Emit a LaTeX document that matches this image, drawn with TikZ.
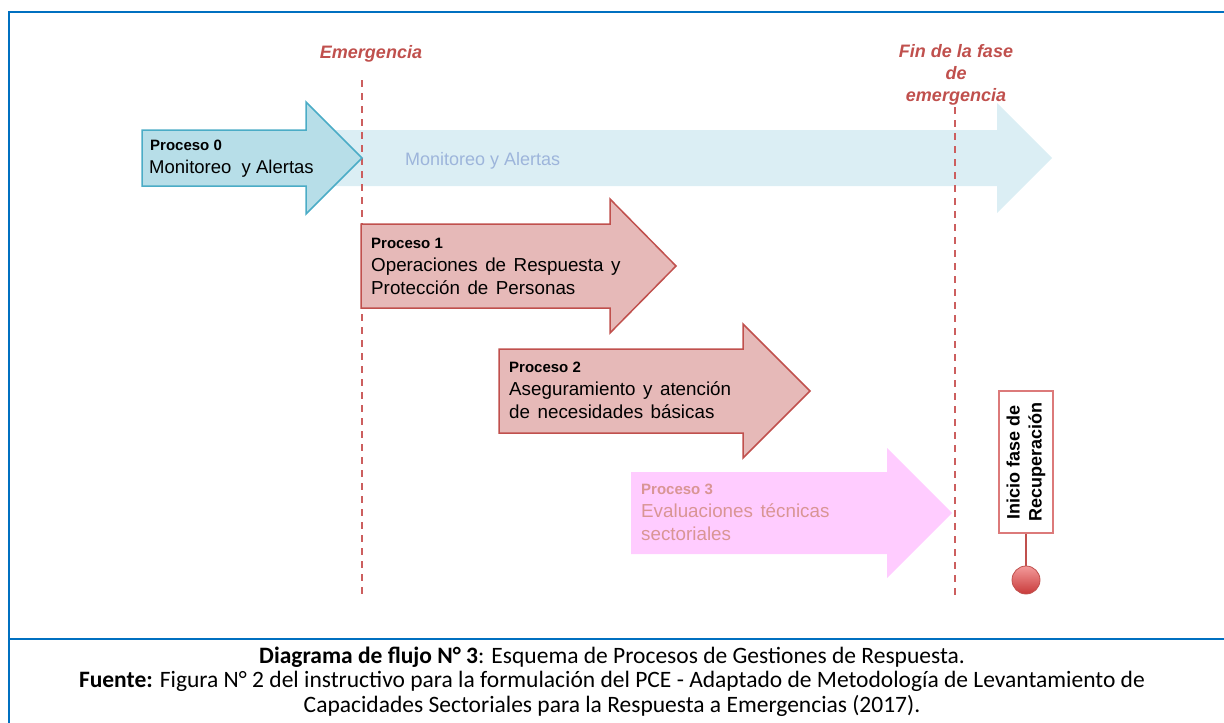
\documentclass[tikz,border=0pt]{standalone}
\usepackage{fontspec}
\setmainfont{Liberation Sans}
\newfontfamily\capfont{Carlito}
\newcommand\widespaces{\spaceskip=0.4em plus 0.1em\relax}
\definecolor{frameblue}{HTML}{0070C0}
\definecolor{redtxt}{HTML}{C0504D}
\definecolor{dashred}{HTML}{CC5E5E}
\definecolor{pzfill}{HTML}{B7DEE8}
\definecolor{pzdraw}{HTML}{4BACC6}
\definecolor{lightfill}{HTML}{DBEEF4}
\definecolor{lighttxt}{HTML}{9DB5DB}
\definecolor{pfill}{HTML}{E6B9B8}
\definecolor{pdraw}{HTML}{C0504D}
\definecolor{pinkfill}{HTML}{FFCCFF}
\definecolor{pinktxt}{HTML}{D99594}
\definecolor{boxdraw}{HTML}{DC7A7A}
\definecolor{balltop}{HTML}{F39A9A}
\definecolor{ballbot}{HTML}{C83A3A}
\begin{document}
\begin{tikzpicture}[x=1pt,y=-1pt,
  frameline/.style={draw=frameblue,line width=2},
  dashline/.style={draw=dashred,line width=1.6,dash pattern=on 7pt off 6pt},
  redlabel/.style={text=redtxt,font=\fontsize{18}{22}\selectfont\bfseries\itshape,anchor=base,inner sep=0},
  ptitle/.style={font=\fontsize{15}{18}\selectfont\bfseries,anchor=base west,inner sep=0},
  ptext/.style={font=\fontsize{18.8}{22}\selectfont\widespaces,anchor=base west,inner sep=0},
  captxt/.style={font=\capfont\fontsize{23.5}{24}\selectfont,anchor=base,inner sep=0}]
\useasboundingbox (0,0) rectangle (1224,723);
% frame
\draw[frameline] (9,723) -- (9,12) -- (1224,12);
\draw[frameline] (9,639) -- (1224,639);
% light background arrow
\fill[lightfill] (300,130) -- (997,130) -- (997,103) -- (1052,158) -- (997,213) -- (997,186) -- (300,186) -- cycle;
\node[ptext,font=\fontsize{18}{22}\selectfont,text=lighttxt] (mon) at (405,165) {Monitoreo y Alertas};
% dashed lines
\coordinate (e1) at (362,80);
\coordinate (e2) at (362,598);
\coordinate (f1) at (955,107);
\coordinate (f2) at (955,598);
\draw[dashline] (e1) -- (e2);
\draw[dashline] (f1) -- (f2);
% labels
\node[redlabel] (emer) at (371,58) {Emergencia};
\node[redlabel] (fin1) at (956,57) {Fin de la fase};
\node[redlabel] (fin2) at (956,79) {de};
\node[redlabel] (fin3) at (956,101) {emergencia};
% proceso 0
\filldraw[fill=pzfill,draw=pzdraw,line width=1.5] (142,130) -- (306,130) -- (306,102) -- (362,158) -- (306,214) -- (306,186) -- (142,186) -- cycle;
\node[ptitle] (p0t) at (150,150) {Proceso 0};
\node[ptext,font=\fontsize{18.5}{22}\selectfont] (p0x) at (149,173) {Monitoreo \ y Alertas};
% proceso 1
\filldraw[fill=pfill,draw=pdraw,line width=1.5] (361,224) -- (610,224) -- (610,199) -- (676,266) -- (610,333) -- (610,308) -- (361,308) -- cycle;
\node[ptitle] (p1t) at (371,248) {Proceso 1};
\node[ptext] (p1a) at (371,271) {Operaciones de Respuesta y};
\node[ptext] (p1b) at (371,294) {Protección de Personas};
% proceso 2
\filldraw[fill=pfill,draw=pdraw,line width=1.5] (499,349) -- (743,349) -- (743,324) -- (810,391) -- (743,458) -- (743,433) -- (499,433) -- cycle;
\node[ptitle] (p2t) at (509,372) {Proceso 2};
\node[ptext] (p2a) at (509,395) {Aseguramiento y atención};
\node[ptext] (p2b) at (509,418) {de necesidades básicas};
% proceso 3
\fill[pinkfill] (631,472) -- (887,472) -- (887,448) -- (952,513) -- (887,578) -- (887,554) -- (631,554) -- cycle;
\node[ptitle,text=pinktxt] (p3t) at (641,494) {Proceso 3};
\node[ptext,text=pinktxt] (p3a) at (641,517) {Evaluaciones técnicas};
\node[ptext,text=pinktxt] (p3b) at (641,540) {sectoriales};
% recuperacion
\node[draw=boxdraw,line width=1.3,fill=white,rotate=90,align=center,minimum width=142,minimum height=54,inner sep=0,
  font=\fontsize{18}{22}\selectfont\bfseries] (rec) at (1026,462) {Inicio fase de\\Recuperación};
\node[circle,minimum size=28,inner sep=0,draw=pdraw,line width=0.8,top color=balltop,bottom color=ballbot] (ball) at (1026,580) {};
\draw[draw=pdraw,line width=1.3] (rec.west) -- (ball.north);
% caption
\node[captxt] (c1) at (612,663) {\textbf{Diagrama de flujo N° 3}: Esquema de Procesos de Gestiones de Respuesta.};
\node[captxt] (c2) at (612,687.5) {\textbf{Fuente:} Figura N° 2 del instructivo para la formulación del PCE - Adaptado de Metodología de Levantamiento de};
\node[captxt] (c3) at (612,712) {Capacidades Sectoriales para la Respuesta a Emergencias (2017).};
\end{tikzpicture}
\end{document}
